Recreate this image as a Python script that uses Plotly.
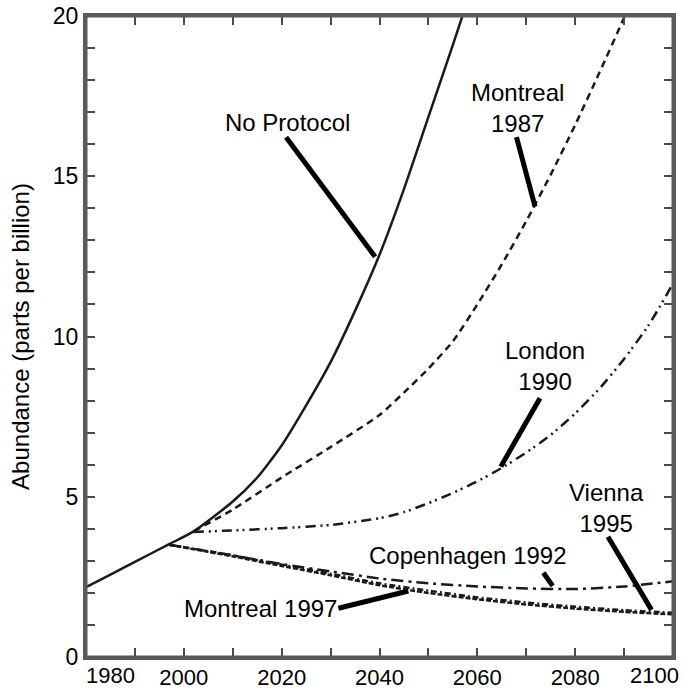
import plotly.graph_objects as go

# ---- data ----
no_protocol_years = [1980, 1985, 1990, 1997, 2002, 2010, 2015, 2020, 2025, 2030, 2035, 2040, 2045, 2050, 2055, 2060]
no_protocol_vals = [2.18, 2.57, 2.97, 3.52, 3.92, 4.85, 5.6, 6.6, 7.85, 9.2, 10.8, 12.55, 14.6, 16.85, 19.1, 21.4]

montreal87_years = [2002, 2010, 2020, 2030, 2040, 2045, 2050, 2055, 2060, 2065, 2070, 2075, 2080, 2085, 2090, 2095]
montreal87_vals = [3.92, 4.6, 5.6, 6.55, 7.55, 8.25, 9.0, 9.85, 11.0, 12.25, 13.6, 15.05, 16.6, 18.25, 19.95, 21.8]

london_years = [2002, 2010, 2020, 2030, 2040, 2045, 2050, 2055, 2060, 2065, 2070, 2075, 2080, 2085, 2090, 2095, 2100]
london_vals = [3.9, 3.95, 4.02, 4.12, 4.33, 4.52, 4.8, 5.12, 5.48, 5.9, 6.38, 6.93, 7.6, 8.38, 9.3, 10.35, 11.65]

copenhagen_years = [1997, 2005, 2010, 2020, 2030, 2040, 2050, 2060, 2070, 2080, 2090, 2100]
copenhagen_vals = [3.5, 3.3, 3.17, 2.9, 2.67, 2.45, 2.3, 2.2, 2.14, 2.12, 2.2, 2.36]

vienna_years = [1997, 2005, 2010, 2020, 2030, 2040, 2050, 2060, 2070, 2080, 2090, 2100]
vienna_vals = [3.5, 3.3, 3.17, 2.88, 2.6, 2.3, 2.07, 1.86, 1.7, 1.57, 1.46, 1.38]

montreal97_years = [1997, 2005, 2010, 2020, 2030, 2040, 2050, 2060, 2070, 2080, 2090, 2100]
montreal97_vals = [3.5, 3.28, 3.14, 2.84, 2.55, 2.24, 2.0, 1.8, 1.64, 1.51, 1.41, 1.33]

x_tick_vals = [1980, 1990, 2000, 2010, 2020, 2030, 2040, 2050, 2060, 2070, 2080, 2090, 2100]
x_tick_text = ["", "", "2000", "", "2020", "", "2040", "", "2060", "", "2080", "", ""]
x_end_labels = ["1980", "2100"]          # end labels, drawn inside the axis ends
x_end_years = [1980, 2100]
y_tick_vals = list(range(0, 21))
y_tick_text = [str(v) if v % 5 == 0 else "" for v in y_tick_vals]

# label texts and pointer segments (year, ppb)
label_texts = ["No Protocol", "Montreal<br>1987", "London<br>1990", "Vienna<br>1995", "Copenhagen 1992", "Montreal 1997"]
label_years = [2021.1, 2068.3, 2073.9, 2086.4, 2058.1, 2015.7]
label_ppb = [16.69, 17.14, 9.09, 4.66, 3.17, 1.51]
pointer_start = [(2020.9, 16.22), (2068.0, 16.22), (2072.8, 8.07), (2086.7, 3.75), (2073.5, 2.63), (2031.6, 1.52)]
pointer_end = [(2039.1, 12.49), (2071.8, 14.05), (2064.8, 5.94), (2095.6, 1.47), (2075.4, 2.22), (2045.9, 2.06)]

FONT = "Liberation Sans, Arial, Helvetica, sans-serif"
LINE = "#1a1a1a"

fig = go.Figure()

series = [
    ("No Protocol", no_protocol_years, no_protocol_vals, "solid"),
    ("Montreal 1987", montreal87_years, montreal87_vals, "7px,5px"),
    ("London 1990", london_years, london_vals, "10px,5px,2px,4px,2px,5px"),
    ("Copenhagen 1992", copenhagen_years, copenhagen_vals, "12px,5px,3px,5px"),
    ("Vienna 1995", vienna_years, vienna_vals, "6px,3px,2px,3px"),
    ("Montreal 1997", montreal97_years, montreal97_vals, "5px,2px"),
]
for name, xs, ys, dash in series:
    fig.add_trace(go.Scatter(
        x=xs, y=ys, mode="lines", name=name,
        line=dict(color=LINE, width=2.5, dash=dash, shape="spline", smoothing=0.6),
        showlegend=False,
    ))

for (x0, y0), (x1, y1) in zip(pointer_start, pointer_end):
    fig.add_shape(type="line", xref="x", yref="y", x0=x0, y0=y0, x1=x1, y1=y1,
                  line=dict(color="black", width=5))

for txt, lx, ly in zip(label_texts, label_years, label_ppb):
    fig.add_annotation(x=lx, y=ly, xref="x", yref="y", text=txt, showarrow=False,
                       font=dict(family=FONT, size=24, color="black"),
                       xanchor="center", yanchor="middle", align="center")

# end tick labels of the x axis (shifted inward like the reference)
for txt, yr, anchor, shift in zip(x_end_labels, x_end_years, ["left", "right"], [-2, 8]):
    fig.add_annotation(x=yr, y=0, xref="x", yref="paper", text=txt, showarrow=False,
                       font=dict(family=FONT, size=22, color="black"),
                       xanchor=anchor, yanchor="top", xshift=shift, yshift=-4)

# plot frame
fig.add_shape(type="rect", xref="paper", yref="paper", x0=0, y0=0, x1=1, y1=1,
              line=dict(color="#5a5a5a", width=3), layer="above")

fig.update_layout(
    width=691, height=690,
    margin=dict(l=86, r=18, t=16, b=33, autoexpand=False),
    paper_bgcolor="white", plot_bgcolor="white",
    font=dict(family=FONT, size=23, color="black"),
    xaxis=dict(
        range=[1980, 2100], tickmode="array", tickvals=x_tick_vals, ticktext=x_tick_text,
        showline=True, linewidth=3, linecolor="#5a5a5a", mirror="ticks",
        ticks="inside", ticklen=9, tickwidth=2, tickcolor="#4a4a4a",
        showgrid=False, zeroline=False, automargin=False,
        ticklabelstandoff=-1,
        tickfont=dict(family=FONT, size=22, color="black"),
    ),
    yaxis=dict(
        range=[0, 20], tickmode="array", tickvals=y_tick_vals, ticktext=y_tick_text,
        showline=True, linewidth=3, linecolor="#5a5a5a", mirror="ticks",
        ticks="inside", ticklen=9, tickwidth=2, tickcolor="#4a4a4a",
        showgrid=False, zeroline=False, automargin=False,
        tickfont=dict(family=FONT, size=23, color="black"),
        title=dict(text="Abundance (parts per billion)", font=dict(family=FONT, size=24, color="black"), standoff=17),
    ),
)

fig.write_html("out.html")
